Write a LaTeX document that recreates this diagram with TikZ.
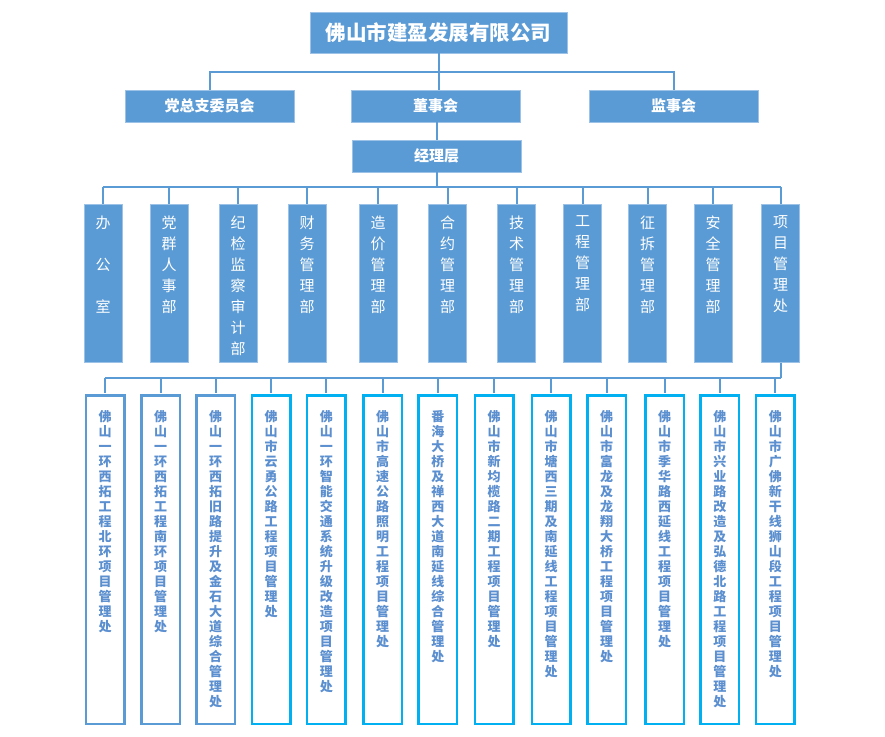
\documentclass[tikz,border=0pt]{standalone}
\usepackage{fontspec}
\newfontfamily\cjk{Noto Sans CJK SC}
\definecolor{mainblue}{HTML}{5B9BD5}
\definecolor{edgeblue}{HTML}{9CC2E8}
\definecolor{lineblue}{HTML}{5B9BD5}
\definecolor{cyanb}{HTML}{00B0F0}
\definecolor{projtxt}{HTML}{5B8FCF}
\begin{document}
\begin{tikzpicture}[x=1pt,y=-1pt,
  blk/.style={fill=mainblue, draw=edgeblue, line width=0.8pt, inner sep=0pt, text=white},
  topbox/.style={blk, minimum width=257pt, minimum height=41pt, font=\cjk\bfseries\fontsize{20.5}{25}\selectfont},
  midbox/.style={blk, minimum width=169pt, minimum height=32pt, font=\cjk\bfseries\fontsize{15}{18}\selectfont},
  deptbox/.style={blk, minimum width=38pt, minimum height=158pt},
  depttext/.style={text=white, font=\cjk\fontsize{15}{21}\selectfont, align=center, inner sep=0pt, anchor=north},
  projbox/.style={draw=cyanb, line width=2.5pt, fill=white, minimum width=38.5pt, minimum height=328.5pt, inner sep=0pt},
  projboxold/.style={projbox, draw=mainblue},
  projtext/.style={text=projtxt, font=\cjk\bfseries\fontsize{13}{15}\selectfont, align=center, inner sep=0pt, anchor=north},
  conn/.style={draw=lineblue, line width=2pt}
]
\useasboundingbox (0,0) rectangle (885,736);

% top levels
\node[topbox] (top) at (438.5,32.5) {佛山市建盈发展有限公司};
\node[midbox] (dang) at (209.5,106) {党总支委员会};
\node[midbox] (dong) at (435.5,106) {董事会};
\node[midbox] (jian) at (673.5,106) {监事会};
\node[midbox] (jl) at (436.5,156) {经理层};

\coordinate (b1) at (0,72);
\coordinate (b2) at (0,187);
\coordinate (b3) at (0,378);

\draw[conn] (top.south) -- (top.south |- dong.north);
\draw[conn] (dang.north) -- (dang.north |- b1) -- (jian.north |- b1) -- (jian.north);
\draw[conn] (dong.south) -- (dong.south -| jl.north) -- (jl.north);

% departments
\foreach \i/\x in {1/103,2/169,3/238,4/307,5/378,6/447.5,7/516.5,8/582.5,9/647.5,10/713,11/780.5}{
  \node[deptbox] (d\i) at (\x,283.5) {};
}
\node[depttext] (t1) at ([yshift=-11.5pt]d1.north) {办\\[21pt]公\\[21pt]室};
\node[depttext] (t2) at ([yshift=-11.5pt]d2.north) {党\\群\\人\\事\\部};
\node[depttext] (t3) at ([yshift=-11.5pt]d3.north) {纪\\检\\监\\察\\审\\计\\部};
\node[depttext] (t4) at ([yshift=-11.5pt]d4.north) {财\\务\\管\\理\\部};
\node[depttext] (t5) at ([yshift=-11.5pt]d5.north) {造\\价\\管\\理\\部};
\node[depttext] (t6) at ([yshift=-11.5pt]d6.north) {合\\约\\管\\理\\部};
\node[depttext] (t7) at ([yshift=-11.5pt]d7.north) {技\\术\\管\\理\\部};
\node[depttext] (t8) at ([yshift=-11.5pt]d8.north) {工\\程\\管\\理\\部};
\node[depttext] (t9) at ([yshift=-11.5pt]d9.north) {征\\拆\\管\\理\\部};
\node[depttext] (t10) at ([yshift=-11.5pt]d10.north) {安\\全\\管\\理\\部};
\node[depttext] (t11) at ([yshift=-11.5pt]d11.north) {项\\目\\管\\理\\处};

\draw[conn] (jl.south) -- (jl.south |- b2);
\draw[conn] (d1.north |- b2) -- (d11.north |- b2);
\foreach \i in {1,...,11}{
  \draw[conn] (d\i.north) -- (d\i.north |- b2);
}

% projects
\foreach \i/\x in {1/105.2,2/160.5,3/215.5}{
  \node[projboxold] (p\i) at (\x,559.5) {};
}
\foreach \i/\x in {4/271.2,5/326.3,6/382.7,7/437.8,8/494.2,9/551,10/606.7,11/664.5,12/719.8,13/775.3}{
  \node[projbox] (p\i) at (\x,559.5) {};
}
\node[projtext] (q1) at ([yshift=-16.5pt]p1.north) {佛\\山\\一\\环\\西\\拓\\工\\程\\北\\环\\项\\目\\管\\理\\处};
\node[projtext] (q2) at ([yshift=-16.5pt]p2.north) {佛\\山\\一\\环\\西\\拓\\工\\程\\南\\环\\项\\目\\管\\理\\处};
\node[projtext] (q3) at ([yshift=-16.5pt]p3.north) {佛\\山\\一\\环\\西\\拓\\旧\\路\\提\\升\\及\\金\\石\\大\\道\\综\\合\\管\\理\\处};
\node[projtext] (q4) at ([yshift=-16.5pt]p4.north) {佛\\山\\市\\云\\勇\\公\\路\\工\\程\\项\\目\\管\\理\\处};
\node[projtext] (q5) at ([yshift=-16.5pt]p5.north) {佛\\山\\一\\环\\智\\能\\交\\通\\系\\统\\升\\级\\改\\造\\项\\目\\管\\理\\处};
\node[projtext] (q6) at ([yshift=-16.5pt]p6.north) {佛\\山\\市\\高\\速\\公\\路\\照\\明\\工\\程\\项\\目\\管\\理\\处};
\node[projtext] (q7) at ([yshift=-16.5pt]p7.north) {番\\海\\大\\桥\\及\\禅\\西\\大\\道\\南\\延\\线\\综\\合\\管\\理\\处};
\node[projtext] (q8) at ([yshift=-16.5pt]p8.north) {佛\\山\\市\\新\\均\\榄\\路\\二\\期\\工\\程\\项\\目\\管\\理\\处};
\node[projtext] (q9) at ([yshift=-16.5pt]p9.north) {佛\\山\\市\\塘\\西\\三\\期\\及\\南\\延\\线\\工\\程\\项\\目\\管\\理\\处};
\node[projtext] (q10) at ([yshift=-16.5pt]p10.north) {佛\\山\\市\\富\\龙\\及\\龙\\翔\\大\\桥\\工\\程\\项\\目\\管\\理\\处};
\node[projtext] (q11) at ([yshift=-16.5pt]p11.north) {佛\\山\\市\\季\\华\\路\\西\\延\\线\\工\\程\\项\\目\\管\\理\\处};
\node[projtext] (q12) at ([yshift=-16.5pt]p12.north) {佛\\山\\市\\兴\\业\\路\\改\\造\\及\\弘\\德\\北\\路\\工\\程\\项\\目\\管\\理\\处};
\node[projtext] (q13) at ([yshift=-16.5pt]p13.north) {佛\\山\\市\\广\\佛\\新\\干\\线\\狮\\山\\段\\工\\程\\项\\目\\管\\理\\处};

\draw[conn] (d11.south) -- (d11.south |- b3);
\draw[conn] (p1.north |- b3) -- (d11.south |- b3);
\foreach \i in {1,...,13}{
  \draw[conn] ([yshift=1.25pt]p\i.north) -- (p\i.north |- b3);
}
\end{tikzpicture}
\end{document}
